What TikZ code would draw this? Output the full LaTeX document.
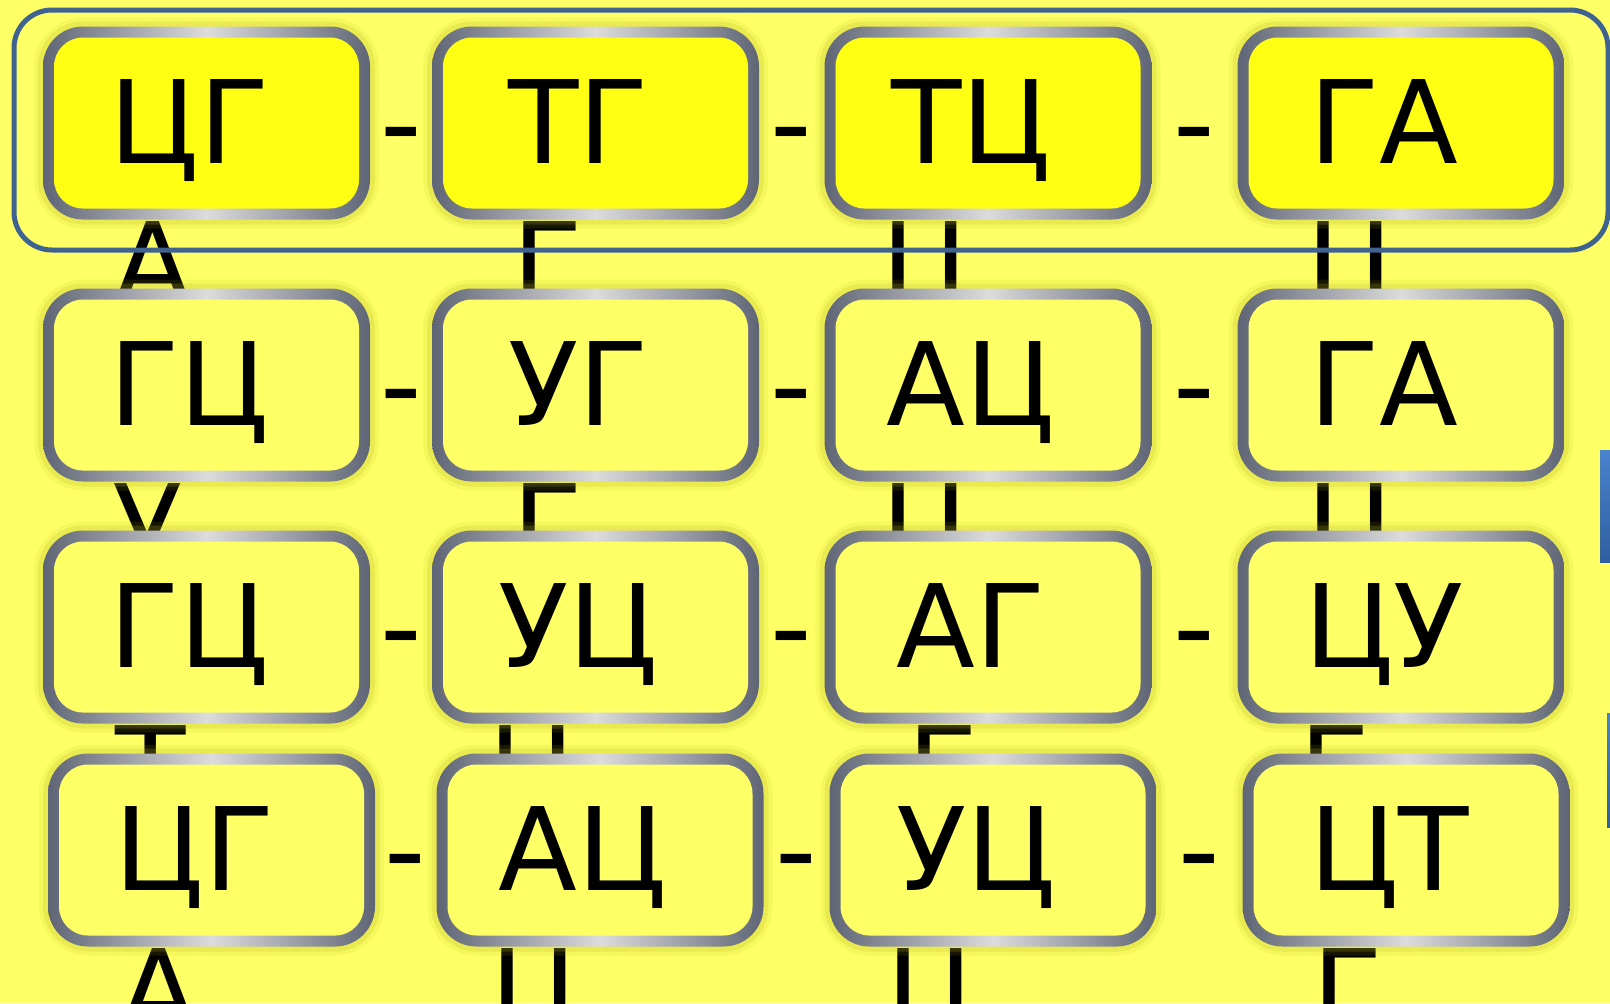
\documentclass[tikz,border=0pt]{standalone}
\usepackage{fontspec}
\setmainfont{DejaVu Sans}
\usetikzlibrary{calc}
\definecolor{bgYellow}{HTML}{FFFF66}
\definecolor{topYellow}{HTML}{FFFF14}
\definecolor{rimDark}{HTML}{5F6575}
\definecolor{rimLight}{HTML}{DCDCDC}
\definecolor{frameBlue}{HTML}{3F6390}
\definecolor{barTop}{HTML}{4A82CC}
\definecolor{barBot}{HTML}{2F5FA0}
\definecolor{glow}{HTML}{B8B820}
\newcommand\cellfont{\fontsize{57.6pt}{60pt}\selectfont}

\tikzset{
  cell/.style={rounded corners=20pt, minimum width=163.5pt, minimum height=96.5pt, inner sep=0pt,
    left color=rimDark, right color=rimDark, middle color=rimLight,
    preaction={draw=glow, line width=9pt, opacity=0.12},
    preaction={draw=glow, line width=5pt, opacity=0.2},
    path picture={\fill[#1, rounded corners=14.5pt]
      ([shift={(5.5pt,-5.5pt)}]path picture bounding box.north west) rectangle
      ([shift={(-5.5pt,5.5pt)}]path picture bounding box.south east);},
    font=\cellfont, text height=42pt, text depth=2pt,
    execute at end node={\hspace{17pt}}},
  hyph/.style={font=\cellfont, inner sep=0pt, anchor=base},
  ghost/.style={font=\cellfont, inner sep=0pt, anchor=base west},
}

\begin{document}
\begin{tikzpicture}[x=0.5pt, y=-0.5pt]
  \useasboundingbox (0,0) rectangle (1610,1003);
  \clip (0,0) rectangle (1610,1003);
  \fill[bgYellow] (0,0) rectangle (1610,1003);

  % letters half hidden behind the cells
  \node[ghost] (g11) at (113,305) {А};
  \node[ghost] (g12) at (512,305) {Г};
  \node[ghost] (g13) at (881,305) {Ц};
  \node[ghost] (g14) at (1306,305) {Ц};
  \node[ghost] (g21) at (112,567) {У};
  \node[ghost] (g22) at (512,567) {Г};
  \node[ghost] (g23) at (881,567) {Ц};
  \node[ghost] (g24) at (1306,567) {Ц};
  \node[ghost] (g31) at (115,809) {Т};
  \node[ghost] (g32) at (488,809) {Ц};
  \node[ghost] (g33) at (907,809) {Г};
  \node[ghost] (g34) at (1299,809) {Г};
  \node[ghost] (g41) at (119,1032) {А};
  \node[ghost] (g42) at (490,1032) {Ц};
  \node[ghost] (g43) at (886,1032) {Ц};
  \node[ghost] (g44) at (1312,1032) {Г};

  % cells
  \node[cell=topYellow] (c11) at (206.5,123) {ЦГ};
  \node[cell=topYellow] (c12) at (595.5,123) {ТГ};
  \node[cell=topYellow] (c13) at (988,123) {ТЦ};
  \node[cell=topYellow] (c14) at (1401,123) {ГА};
  \node[cell=bgYellow] (c21) at (206.5,385) {ГЦ};
  \node[cell=bgYellow] (c22) at (595.5,385) {УГ};
  \node[cell=bgYellow] (c23) at (988,385) {АЦ};
  \node[cell=bgYellow] (c24) at (1401,385) {ГА};
  \node[cell=bgYellow] (c31) at (206.5,627) {ГЦ};
  \node[cell=bgYellow] (c32) at (595.5,627) {УЦ};
  \node[cell=bgYellow] (c33) at (988,627) {АГ};
  \node[cell=bgYellow] (c34) at (1401,627) {ЦУ};
  \node[cell=bgYellow] (c41) at (211.5,850) {ЦГ};
  \node[cell=bgYellow] (c42) at (600,850) {АЦ};
  \node[cell=bgYellow] (c43) at (993,850) {УЦ};
  \node[cell=bgYellow] (c44) at (1406,850) {ЦТ};

  % hyphens between neighbours
  \foreach \r in {1,2,3,4}{
    \foreach \a/\b in {1/2,2/3,3/4}{
      \node[hyph] (d\r\a) at ($(c\r\a.east)!0.5!(c\r\b.west)+(0,40)$) {-};
    }
  }

  % frame round the first row
  \draw[frameBlue, line width=2.5pt, rounded corners=19pt] (14,10) rectangle (1608,250);

  % blue bars cut by the right edge
  \shade[top color=barTop, bottom color=barBot] (1600,450) rectangle (1614,562);
  \shade[top color=barTop, bottom color=barBot] (1607,713) rectangle (1614,827);
\end{tikzpicture}
\end{document}
